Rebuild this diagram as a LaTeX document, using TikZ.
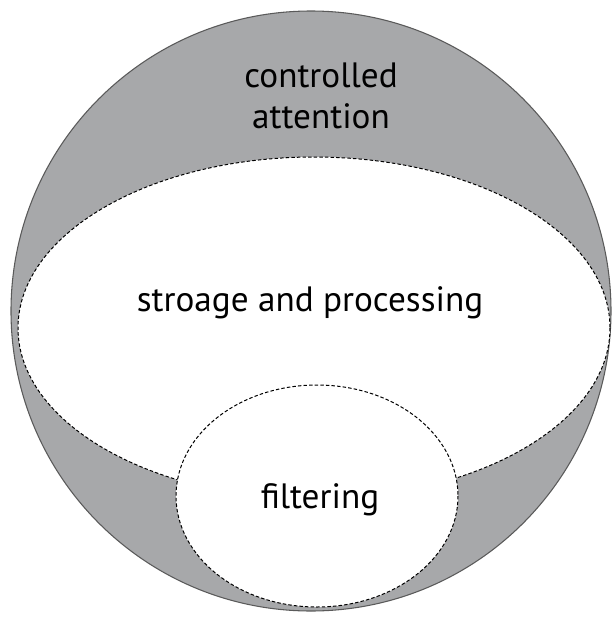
\documentclass[tikz,border=0pt]{standalone}
\usepackage{fontspec}
\setmainfont{PT Sans}
\usetikzlibrary{shapes.geometric}
\definecolor{shade}{HTML}{A7A8AA}
\definecolor{rim}{HTML}{5A5A5A}
\tikzset{
  outer/.style={draw=rim, line width=0.8pt, fill=shade},
  region/.style={draw=black, fill=white, line width=0.75pt, dash pattern=on 2.6pt off 1.6pt},
  lbl/.style={font=\fontsize{26.4}{31}\selectfont, align=center, inner sep=0pt, anchor=base}
}
\begin{document}
\begin{tikzpicture}[x=0.75pt, y=-0.75pt]
  \useasboundingbox (0,0) rectangle (612,619);
  % attention sphere
  \coordinate (c0) at (311,311);
  \draw[outer] (c0) circle [radius=300];
  % storage and processing area
  \coordinate (c1) at (314,328);
  \draw[region] (c1) ellipse [x radius=296, y radius=171];
  % filtering area
  \coordinate (c2) at (317,496);
  \draw[region] (c2) ellipse [x radius=141, y radius=111];
  % labels
  \node[lbl] (ctl) at (321,87) {controlled};
  \node[lbl] (att) at (321,128) {attention};
  \node[lbl] (sto) at (310,311) {stroage and processing};
  \node[lbl] (fil) at (320,508) {filtering};
\end{tikzpicture}
\end{document}
